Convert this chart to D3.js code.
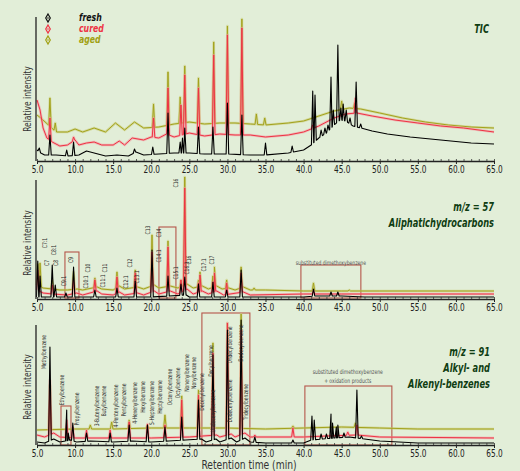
<!DOCTYPE html>
<html><head><meta charset="utf-8">
<script src="https://cdn.jsdelivr.net/npm/d3@7"></script>
<style>
body{margin:0;background:#e2eed8;}
svg{display:block;}
</style></head><body>
<svg id="c" width="520" height="471"></svg>
<script>
// ---------- DATA ----------
const xTicks = [5,10,15,20,25,30,35,40,45,50,55,60,65];
const seriesNames = ["fresh","cured","aged"];

// TIC (relative intensity, arbitrary units)
const ticFreshBase = [[5,11],[5.5,8],[6,6],[7.5,6],[9,5],[10.5,6],[11.5,10],[12.5,8],[14,5],[15.5,6],[17,5],[18,9],[19,6],[21,7],[23,8],[25,8],[27,7],[30,7],[33,6],[35,6],[38,8],[40,11],[41,16],[42,23],[43,28],[44,36],[44.8,41],[45.5,40],[46.5,35],[47.5,33],[49,30],[51,27],[54,24],[58,21],[62,18],[65,17]];
const ticFreshPeaks = [[5.3,13],[6.7,26],[8.9,11],[9.8,19],[17.8,12],[20.2,14],[22.2,48],[23.8,19],[24.1,23],[24.4,33],[26.2,34],[28.1,34],[30.0,58],[31.9,46],[35.0,18],[38.5,15],[41.2,70],[41.5,66],[42.3,31],[42.8,33],[43.2,36],[43.6,84],[43.9,51],[44.5,116],[44.9,53],[45.2,57],[45.6,51],[46.1,43],[46.9,79],[47.5,37]];
const ticCuredBase = [[5,61],[5.4,51],[5.8,33],[6.3,23],[7,19],[8,15],[9,16],[10,21],[10.5,16],[11.5,18],[12.5,19],[13.5,16],[15,16],[15.8,20],[16.5,16],[17.5,23],[19,21],[20,24],[21,23],[22,27],[23,24],[25,28],[27,25],[29,27],[31,26],[33,26],[35,24],[38,26],[40,29],[42,35],[44,43],[45.5,47],[47,48],[49,45],[52,41],[55,38],[58,35],[61,33],[65,29]];
const ticCuredPeaks = [[6.7,43],[9.8,24],[20.3,43],[22.2,73],[23.9,56],[24.4,86],[26.2,73],[28.2,106],[30.0,126],[31.9,133],[41.2,36],[46.8,63]];
const ticAgedBase = [[5,46],[5.5,43],[6.5,36],[7.5,29],[9,29],[10,32],[11,29],[12.5,33],[14,29],[15.3,38],[16.5,31],[17.8,39],[19,33],[21,34],[23,37],[25,39],[27,37],[29,38],[31,38],[33,37],[35,36],[38,38],[40,40],[42,45],[44,50],[46,53],[47.5,52],[50,48],[53,43],[56,39],[59,36],[62,34],[65,33]];
const ticAgedPeaks = [[6.7,63],[7.4,38],[20.3,57],[22.2,89],[23.8,64],[24.4,95],[26.2,83],[28.2,119],[30.0,135],[31.9,142],[33.8,47],[34.9,43],[45.0,60],[46.7,58]];

// m/z 57
const m57FreshBase = [[5,2],[6,2],[10,2],[20,2],[24.6,4],[25,2],[40,2],[41.5,3],[45,3],[48,2],[65,2]];
const m57FreshPeaks = [[5.1,38],[5.4,23],[7.0,34],[7.4,14],[8.8,6],[9.8,32],[12.6,9],[15.5,11],[17.9,18],[20.1,49],[22.2,23],[23.9,15],[24.4,22],[26.2,15],[28.1,17],[29.9,9],[31.8,29],[41.3,10],[43.6,7],[44.5,7]];
const m57CuredBase = [[5,9],[5.8,6],[7,5],[9,4],[10.2,6],[11,4],[12.9,8],[13.5,5],[15,4],[15.8,7],[16.5,4],[18.2,6],[19,4],[20.4,8],[21,5],[22.5,8],[23.5,5],[24.7,10],[25.5,5],[26.7,8],[27.5,5],[28.6,8],[29.5,4],[32.1,7],[33,4],[40,5],[45,5],[55,5],[65,5]];
const m57CuredPeaks = [[5.1,29],[7.0,14],[9.8,19],[12.6,19],[15.5,22],[17.9,26],[20.1,47],[22.2,52],[23.9,19],[24.4,111],[26.2,16],[26.4,24],[28.1,17],[28.3,26],[29.9,16],[31.8,26],[41.3,8]];
const m57AgedBase = [[5,14],[5.8,11],[7,10],[8,9],[9,9],[10.3,10],[11,9],[12.9,12],[13.5,10],[15,9],[15.8,13],[16.5,10],[18.2,12],[19,10],[20.4,14],[21,11],[22.5,13],[23.5,11],[24.7,15],[25.5,11],[26.7,13],[27.5,10],[28.6,13],[29.3,10],[30.2,11],[31,9],[32.1,12],[33,9],[35,9],[40,8],[45,8],[50,8],[55,8],[60,8],[65,8]];
const m57AgedPeaks = [[5.1,35],[5.4,36],[7.0,19],[9.8,27],[12.6,21],[15.5,27],[17.9,29],[20.1,64],[22.2,58],[23.9,19],[24.4,122],[26.2,19],[26.4,27],[28.1,23],[28.3,32],[29.9,19],[31.8,32],[33.5,11],[41.3,16],[46.0,9]];
const m57Labels = [["C7",6.31,36],["C7:1",6.05,56],["C8",7.49,36],["C8:1",7.23,49],["C9:1",8.54,18],["C9",9.46,39],["C10:1",11.43,17],["C10",11.69,31],["C11:1",13.66,18],["C11",13.92,31],["C12:1",16.68,17],["C12",17.2,36],["C13:1",18.12,22],["C13",19.57,69],["C14:1",21.01,43],["C14",21.01,66],["C15:1",23.24,26],["C16",23.24,116],["C16:1",24.69,31],["C16",24.95,39],["C17:1",26.92,34],["C17",27.97,39]];
const m57Boxes = [[8.67,10.51,1,47],[21.01,23.24,1,72],[39.65,47.52,1,34]];
const m57Notes = [["substituted dimethoxybenzene",43.58,36]];

// m/z 91
const m91FreshBase = [[5,3],[6,2],[7.2,6],[8,3],[9.4,5],[10.2,3],[12,4],[15,3],[17.5,4],[20,3],[22.3,4],[24.5,5],[26.6,6],[27.2,3],[28.5,6],[29,3],[30.5,7],[31.2,3],[32.3,7],[33,3],[35,2],[40,2],[41,5],[44,7],[46,8],[48,6],[50,4],[55,2],[65,2]];
const m91FreshPeaks = [[6.7,98],[8.9,35],[9.1,12],[9.7,22],[11.5,12],[14.6,12],[17.1,20],[19.5,20],[21.8,18],[24.0,28],[26.2,45],[28.1,90],[30.0,115],[31.8,125],[33.6,8],[38.6,5],[41.1,29],[41.4,25],[42.3,11],[43.0,11],[43.6,31],[43.8,22],[44.3,18],[44.5,20],[45.3,12],[47.0,55],[47.6,9]];
const m91CuredBase = [[5,10],[6,8],[7.2,12],[8,8],[10,7],[15,7],[20,7],[25,8],[28.6,10],[29,8],[30.5,11],[31,8],[32.3,12],[33,8],[40,8],[43,9],[47,10],[50,8],[65,7]];
const m91CuredPeaks = [[6.7,65],[8.9,25],[9.7,18],[11.5,15],[14.6,15],[17.1,23],[19.5,21],[21.8,20],[24.0,45],[26.2,50],[28.1,92],[30.0,122],[31.8,115],[33.6,10],[38.6,17],[45.8,13],[47.0,20]];
const m91AgedBase = [[5,15],[10,16],[15,16],[20,17],[25,17],[30,17],[35,16],[40,17],[45,18],[50,17],[55,16],[60,16],[65,16]];
const m91AgedPeaks = [[6.7,60],[12.0,20],[14.8,23],[17.1,25],[19.5,20],[21.8,30],[24.0,49],[26.2,55],[28.1,102],[30.0,122],[31.8,131],[38.6,19],[46.8,22]];
const m91Labels = [["Methylbenzene",5.92,93],["Ethylbenzene",8.28,55],["Propylbenzene",10.25,36],["3-Butenylbenzene",12.87,39],["Butylbenzene",13.79,44],["4-Pentenylbenzene",15.37,39],["Pentylbenzene",16.42,45],["4-Hexenylbenzene",17.86,42],["Hexylbenzene",18.91,48],["5-Heptenylbenzene",20.09,42],["Heptylbenzene",21.14,48],["Octenylbenzene",22.45,58],["Octylbenzene",23.5,62],["Nonenylbenzene",24.69,72],["Nonylbenzene",25.6,72],["Decenylbenzene",26.65,53],["Decylbenzene",27.83,84],["Undecenylbenzene",28.1,34],["Undecylbenzene",30.33,100],["Dodecenylbenzene",30.33,44],["Dodecylbenzene",31.77,102],["Tridecylbenzene",32.43,43]];
const m91Boxes = [[8.15,9.46,0,39],[26.65,32.95,0,132],[40.17,51.59,0,59]];
const m91Notes = [["substituted dimethoxybenzene",45.8,73],["+ oxidation products",45.8,64]];

// ---------- DRAW ----------
const svg = d3.select("#c");
svg.append("rect").attr("width",520).attr("height",471).attr("fill","#e2eed8");
const FONT = "'Liberation Sans Narrow','DejaVu Sans Condensed','Roboto Condensed','Liberation Sans',sans-serif";
const TFONT = "'DejaVu Sans',sans-serif";
const x = d3.scaleLinear().domain([5,65]).range([37,494]);

const styles = {
  aged:{halo:"#c6ca70",main:"#a3a21c"},
  cured:{halo:"#f5949c",main:"#ee3344"},
  fresh:{halo:null,main:"#000"}
};

const panels = [
  {bottom:161, top:17, max:144, title:[["TIC",30]], tx:489, ylab:99,
   series:[["aged",ticAgedBase,ticAgedPeaks],["cured",ticCuredBase,ticCuredPeaks],["fresh",ticFreshBase,ticFreshPeaks]],
   labels:[], boxes:[], notes:[]},
  {bottom:299, top:180, max:119, title:[["m/z = 57",208],["Aliphatichydrocarbons",224]], tx:494, ylab:243,
   series:[["aged",m57AgedBase,m57AgedPeaks],["cured",m57CuredBase,m57CuredPeaks],["fresh",m57FreshBase,m57FreshPeaks]],
   labels:m57Labels, boxes:m57Boxes, notes:m57Notes},
  {bottom:445, top:325, max:120, title:[["m/z = 91",353],["Alkyl- and",369],["Alkenyl-benzenes",385]], tx:490, ylab:387,
   series:[["aged",m91AgedBase,m91AgedPeaks],["cured",m91CuredBase,m91CuredPeaks],["fresh",m91FreshBase,m91FreshPeaks]],
   labels:m91Labels, boxes:m91Boxes, notes:m91Notes}
];

function buildLine(base, peaks, w){
  const b = d3.scaleLinear().domain(base.map(d=>d[0])).range(base.map(d=>d[1])).clamp(true);
  const pts = base.filter(d=>!peaks.some(p=>Math.abs(p[0]-d[0])<w));
  peaks.forEach(p=>{pts.push([p[0]-w,b(p[0]-w)],[p[0],p[1]],[p[0]+w,b(p[0]+w)]);});
  pts.sort((a,c)=>a[0]-c[0]);
  return pts;
}

panels.forEach(p=>{
  const y = d3.scaleLinear().domain([0,p.max]).range([p.bottom,p.top]);
  const g = svg.append("g");
  p.boxes.forEach(bx=>{
    g.append("rect").attr("x",x(bx[0])).attr("y",y(bx[3])).attr("width",x(bx[1])-x(bx[0])).attr("height",y(bx[2])-y(bx[3]))
     .attr("fill","none").attr("stroke","#b5564a").attr("stroke-width",1.1);
  });
  p.notes.forEach(n=>{
    g.append("text").attr("transform",`translate(${x(n[1])},${y(n[2])}) scale(0.8,1)`).attr("text-anchor","middle").attr("dominant-baseline","middle")
     .attr("font-family",FONT).attr("font-size",6.3).attr("fill","#555").text(n[0]);
  });
  const line = d3.line().x(d=>x(d[0])).y(d=>y(d[1]));
  p.series.forEach(s=>{
    const st = styles[s[0]];
    const pts = buildLine(s[1], s[2], 0.17);
    if(st.halo) g.append("path").attr("d",line(pts)).attr("fill","none").attr("stroke",st.halo).attr("stroke-width",2.6).attr("stroke-opacity",0.55).attr("stroke-linejoin","round");
    g.append("path").attr("d",line(pts)).attr("fill","none").attr("stroke",st.main).attr("stroke-width",s[0]==="fresh"?1.1:1).attr("stroke-linejoin","round");
  });
  p.labels.forEach(l=>{
    g.append("text").attr("transform",`translate(${x(l[1])},${y(l[2])}) rotate(-90) scale(0.78,1)`)
     .attr("text-anchor","middle").attr("dominant-baseline","middle")
     .attr("font-family",FONT).attr("font-size",6.4).attr("fill","#2a2a2a").text(l[0]);
  });
  const major = d3.axisBottom(x).tickValues(xTicks).tickFormat(d3.format(".1f")).tickSize(3).tickSizeOuter(0);
  const ax = g.append("g").attr("transform",`translate(0,${p.bottom})`).call(major);
  ax.select(".domain").attr("stroke","#222").attr("stroke-width",1.3);
  ax.selectAll(".tick line").attr("stroke","#222");
  ax.selectAll("text").attr("font-family",FONT).attr("font-size",10.5).attr("fill","#222").attr("dy","0.6em")
    .attr("transform","scale(0.78,1)");
  const minor = d3.axisBottom(x).tickValues(d3.range(5,65.01,1)).tickFormat("").tickSize(-2).tickSizeOuter(0);
  const mx = g.append("g").attr("transform",`translate(0,${p.bottom})`).call(minor);
  mx.select(".domain").remove();
  mx.selectAll(".tick line").attr("stroke","#333").attr("stroke-width",0.8);
  g.append("line").attr("x1",36).attr("x2",36).attr("y1",p.top).attr("y2",p.bottom).attr("stroke","#222").attr("stroke-width",1.3);
  g.append("text").attr("transform",`translate(31,${p.ylab}) rotate(-90) scale(0.8,1)`)
   .attr("text-anchor","middle").attr("font-family",FONT).attr("font-size",10.5).attr("fill","#333").text("Relative intensity");
  p.title.forEach(t=>{
    g.append("text").attr("transform",`translate(${p.tx},${t[1]}) scale(0.72,1)`).attr("text-anchor","end").attr("dominant-baseline","middle")
     .attr("font-family",TFONT).attr("font-style","italic").attr("font-weight","bold")
     .attr("font-size",11.5).attr("fill","#0f3d12").text(t[0]);
  });
});

svg.append("text").attr("transform","translate(249,469) scale(0.85,1)").attr("text-anchor","middle").attr("font-family",FONT)
  .attr("font-size",12).attr("fill","#333").text("Retention time (min)");

// legend
const legColors = {fresh:"#111",cured:"#ee3344",aged:"#a0a012"};
seriesNames.forEach((n,i)=>{
  const yy = 18 + i*11;
  svg.append("path").attr("transform",`translate(48,${yy})`).attr("d",d3.symbol(d3.symbolDiamond,18)())
     .attr("fill","none").attr("stroke",legColors[n]).attr("stroke-width",1.2);
  svg.append("circle").attr("cx",48).attr("cy",yy).attr("r",0.8).attr("fill",legColors[n]);
  svg.append("text").attr("transform",`translate(79,${yy}) scale(0.78,1)`).attr("dominant-baseline","middle")
     .attr("font-family",TFONT).attr("font-style","italic").attr("font-weight","bold")
     .attr("font-size",10).attr("fill",legColors[n]).text(n);
});
</script></body></html>
